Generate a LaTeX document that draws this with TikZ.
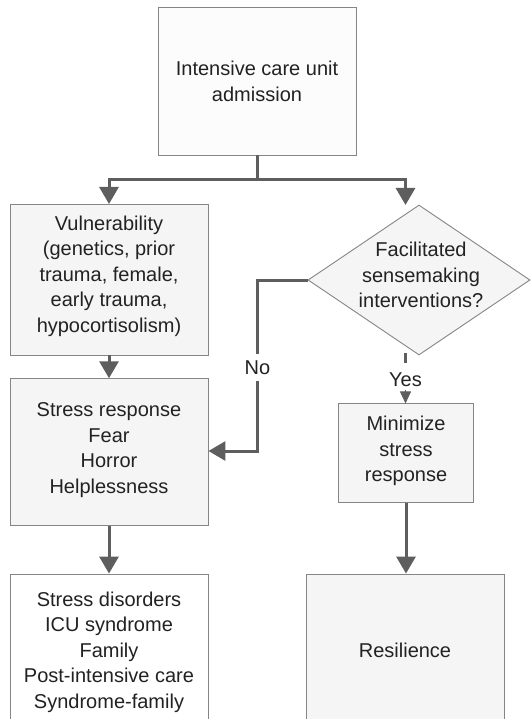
\documentclass[tikz,border=0pt]{standalone}
\usepackage{fontspec}
\setmainfont{Liberation Sans}
\usetikzlibrary{shapes.geometric,arrows.meta}
\definecolor{linegray}{HTML}{5E5E5E}
\definecolor{edgegray}{HTML}{858585}
\definecolor{boxfill}{HTML}{F5F5F5}
\definecolor{topfill}{HTML}{FCFCFC}
\definecolor{txtgray}{HTML}{222222}

\begin{document}
\begin{tikzpicture}[x=1pt,y=-1pt,
  box/.style={draw=edgegray, line width=0.9pt, fill=boxfill, rectangle, inner sep=0pt},
  decision/.style={draw=edgegray, line width=0.9pt, fill=boxfill, diamond, inner sep=0pt},
  txt/.style={align=center, text=txtgray, font=\fontsize{20}{25.5}\selectfont, inner sep=0pt},
  conn/.style={draw=linegray, line width=3pt},
  arr/.style={conn, -{Triangle[length=17pt,width=19pt]}},
  smallarr/.style={draw=linegray, line width=1pt, -{Triangle[length=12pt,width=11pt]}},
]
\useasboundingbox (0,0) rectangle (530,719);

% boxes
\node[box, fill=topfill, minimum width=198pt, minimum height=148pt] (icu) at (257,81) {};
\node[box, minimum width=198pt, minimum height=150.5pt] (vul) at (109,279.7) {};
\node[box, minimum width=198pt, minimum height=147pt] (stress) at (109,452.2) {};
\node[box, fill=white, minimum width=198pt, minimum height=148pt] (dis) at (109,648) {};
\node[decision, minimum width=222pt, minimum height=150pt] (dia) at (419,280) {};
\node[box, minimum width=134.6pt, minimum height=99pt] (min) at (406,453.4) {};
\node[box, minimum width=198pt, minimum height=148pt] (res) at (405,648) {};

% texts
\node[txt] (icutext) at (257,81.5) {Intensive care unit\\admission};
\node[txt] (vultext) at (109,276) {Vulnerability\\(genetics, prior\\trauma, female,\\early trauma,\\hypocortisolism)};
\node[txt] (stresstext) at (109,450) {Stress response\\Fear\\Horror\\Helplessness};
\node[txt] (distext) at (109,652) {Stress disorders\\ICU syndrome\\Family\\Post-intensive care\\Syndrome-family};
\node[txt] (diatext) at (421,275) {Facilitated\\sensemaking\\interventions?};
\node[txt] (mintext) at (406,451) {Minimize\\stress\\response};
\node[txt] (restext) at (405,650) {Resilience};

% connectors
\coordinate (split) at (257,180);
\coordinate (diatop) at (405.5,205);
\draw[conn] (icu.south) -- (split);
\draw[arr] (split) -| (vul.north);
\draw[arr] (split) -| (diatop);
\draw[arr] (vul.south) -- (stress.north);
\draw[arr] (stress.south) -- (dis.north);

% "No" branch
\coordinate (nc1) at (257.5,280);
\coordinate (nc2) at (257.5,451);
\draw[arr] (dia.west) -- (nc1) -- (nc2) -- (stress.east |- nc2);
\node[txt, fill=white, inner xsep=2pt, inner ysep=6.5pt] (no) at (257.5,367.5) {No};

% "Yes" branch
\coordinate (yes1) at (405.5,352.7);
\coordinate (yes2) at (405.5,363);
\coordinate (yes3) at (405.5,390);
\draw[draw=linegray, line width=2.5pt] (yes1) -- (yes2);
\node[txt, anchor=base] (yes) at (405.5,386.7) {Yes};
\draw[smallarr] (yes3) -- (yes3 |- min.north);
\draw[arr] (min.south) -- (min.south |- res.north);
\end{tikzpicture}
\end{document}
